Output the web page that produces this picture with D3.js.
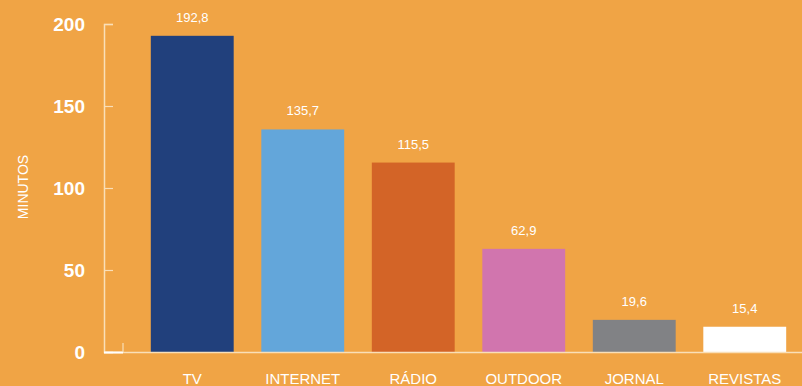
<!DOCTYPE html>
<html>
<head>
<meta charset="utf-8">
<script src="https://cdn.jsdelivr.net/npm/d3@7"></script>
<style>
  body { margin: 0; background: #f0a445; }
  svg { display: block; font-family: "Liberation Sans", Arial, sans-serif; }
</style>
</head>
<body>
<div id="chart"></div>
<script>
// datos del grafico
const categorias = ["TV", "INTERNET", "RÁDIO", "OUTDOOR", "JORNAL", "REVISTAS"];
const minutos = [192.8, 135.7, 115.5, 62.9, 19.6, 15.4];
const colores = ["#21407c", "#63a6da", "#d36427", "#d175ae", "#818285", "#ffffff"];
const ticksY = [0, 50, 100, 150, 200];

const width = 802, height = 386;
const ejeColor = "#f9dfb8";

const svg = d3.select("#chart").append("svg")
  .attr("width", width)
  .attr("height", height);

svg.append("rect").attr("width", width).attr("height", height).attr("fill", "#f0a445");

const x = d3.scaleBand()
  .domain(categorias)
  .range([137, 800])
  .paddingInner(0.25)
  .paddingOuter(0.125);

const y = d3.scaleLinear()
  .domain([0, 200])
  .range([352, 24]);

const fmt = v => String(v).replace(".", ",");

// barras
svg.selectAll(".barra")
  .data(minutos)
  .enter().append("rect")
  .attr("class", "barra")
  .attr("x", (d, i) => x(categorias[i]))
  .attr("y", d => y(d))
  .attr("width", x.bandwidth())
  .attr("height", d => y(0) - y(d))
  .attr("fill", (d, i) => colores[i]);

// valores encima
svg.selectAll(".valor")
  .data(minutos)
  .enter().append("text")
  .attr("class", "valor")
  .attr("x", (d, i) => x(categorias[i]) + x.bandwidth() / 2)
  .attr("y", d => y(d) - 14)
  .attr("text-anchor", "middle")
  .attr("fill", "#fff")
  .attr("font-size", 13)
  .text(fmt);

// eje Y
const ejeY = svg.append("g")
  .attr("transform", "translate(104,0)")
  .call(d3.axisRight(y).tickValues(ticksY).tickSize(9).tickFormat(""));
ejeY.select(".domain").attr("stroke", ejeColor).attr("stroke-width", 1.5);
ejeY.selectAll(".tick line").attr("stroke", ejeColor).attr("stroke-width", 1.2);

svg.selectAll(".ylab")
  .data(ticksY)
  .enter().append("text")
  .attr("class", "ylab")
  .attr("x", 85)
  .attr("y", d => y(d) + 7)
  .attr("text-anchor", "end")
  .attr("fill", "#fff")
  .attr("font-weight", "bold")
  .attr("font-size", 19)
  .text(d => d);

// linea base
svg.append("line")
  .attr("x1", 104).attr("x2", width)
  .attr("y1", y(0) + 0.5).attr("y2", y(0) + 0.5)
  .attr("stroke", ejeColor).attr("stroke-width", 1.5);
svg.append("line")
  .attr("x1", 104).attr("x2", 123)
  .attr("y1", y(0) + 0.5).attr("y2", y(0) + 0.5)
  .attr("stroke", "#fff").attr("stroke-width", 2);
svg.append("line")
  .attr("x1", 123).attr("x2", 123)
  .attr("y1", y(0)).attr("y2", y(0) - 9)
  .attr("stroke", ejeColor).attr("stroke-width", 1.2);

// etiquetas X
svg.selectAll(".xlab")
  .data(categorias)
  .enter().append("text")
  .attr("class", "xlab")
  .attr("x", d => x(d) + x.bandwidth() / 2)
  .attr("y", 384)
  .attr("text-anchor", "middle")
  .attr("fill", "#fff")
  .attr("font-size", 15)
  .text(d => d);

// titulo eje
svg.append("text")
  .attr("transform", "translate(28,187) rotate(-90)")
  .attr("text-anchor", "middle")
  .attr("fill", "#fff")
  .attr("font-size", 14)
  .text("MINUTOS");
</script>
</body>
</html>
